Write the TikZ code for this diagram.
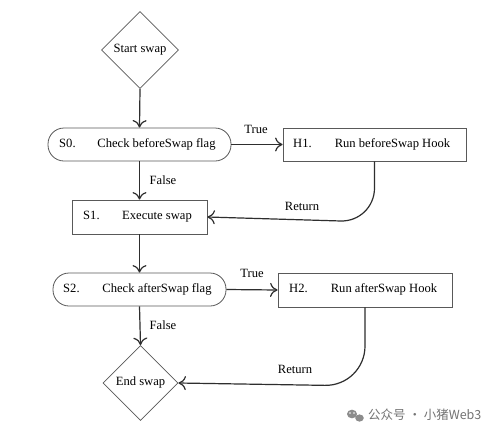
\documentclass[tikz,border=0pt]{standalone}
\usepackage{fontspec}
\setmainfont{Liberation Serif}
\newfontfamily\cjk{Noto Sans CJK SC}
\usetikzlibrary{arrows.meta,shapes.geometric}
\begin{document}
\begin{tikzpicture}[x=1pt,y=-1pt,
  font=\fontsize{12.6}{14}\selectfont,
  line/.style={draw=black!82, line width=1.2pt},
  arr/.style={line, -{Computer Modern Rightarrow[length=7.5pt,width=14pt]}},
  boxshape/.style={draw=black!65, line width=0.8pt, fill=white, inner sep=0pt},
  rbox/.style={boxshape, rounded corners=16pt},
  sbox/.style={boxshape},
  dia/.style={boxshape, diamond, aspect=1},
  txt/.style={inner sep=0pt, text height=1.6ex, text depth=0.45ex},
  lbl/.style={txt}
]
\fill[white] (0,0) rectangle (503,434);
\useasboundingbox (0,0) rectangle (503,434);

% shapes
\node[dia, minimum width=77, minimum height=77] (start) at (140,50) {};
\node[txt] (starttxt) at (start.center) {Start swap};

\node[rbox, minimum width=183, minimum height=33] (s0) at (139.5,144.5) {};
\node[txt, anchor=west] (s0id) at (59,144.5) {S0.};
\node[txt] (s0txt) at (156.5,144.5) {Check beforeSwap flag};

\node[sbox, minimum width=183, minimum height=33] (h1) at (374.5,144.5) {};
\node[txt, anchor=west] (h1id) at (293,144.5) {H1.};
\node[txt] (h1txt) at (392.5,144.5) {Run beforeSwap Hook};

\node[sbox, minimum width=135, minimum height=34] (s1) at (139.5,217) {};
\node[txt, anchor=west] (s1id) at (83,217) {S1.};
\node[txt] (s1txt) at (157,217) {Execute swap};

\node[rbox, minimum width=173, minimum height=33] (s2) at (139.5,289.5) {};
\node[txt, anchor=west] (s2id) at (63,289.5) {S2.};
\node[txt] (s2txt) at (157,289.5) {Check afterSwap flag};

\node[sbox, minimum width=174, minimum height=34] (h2) at (365,290) {};
\node[txt, anchor=west] (h2id) at (289,290) {H2.};
\node[txt] (h2txt) at (384,290) {Run afterSwap Hook};

\node[dia, minimum width=75, minimum height=75] (end) at (140.5,383) {};
\node[txt] (endtxt) at (end.center) {End swap};

% connectors
\draw[arr] (start.south) -- (s0.north);
\draw[arr] (s0.east) -- (h1.west);
\draw[arr] (s0.south) -- (s1.north);
\draw[arr, rounded corners=34pt] (h1.south) -- (374.5,222) -- (s1.east);
\draw[arr] (s1.south) -- (s2.north);
\draw[arr] (s2.east) -- (h2.west);
\draw[arr] (s2.south) -- (end.north);
\draw[arr, rounded corners=40pt] (h2.south) -- (365,386) -- (end.east);

% labels
\node[lbl] (t1) at (256,131) {True};
\node[lbl] (f1) at (163,182) {False};
\node[lbl] (r1) at (302,208) {Return};
\node[lbl] (t2) at (252,275) {True};
\node[lbl] (f2) at (163,327) {False};
\node[lbl] (r2) at (295,371) {Return};

% watermark
\fill[black!45] (352,414) ellipse (5pt and 4.3pt);
\fill[black!45] (359.5,418) ellipse (4.3pt and 3.6pt);
\fill[white] (350,413) circle (0.8pt) (354,413) circle (0.8pt);
\node[anchor=west, inner sep=0pt, text=black!55, font=\cjk\fontsize{12.5}{14}\selectfont] (wm) at (368,415) {公众号 · 小猪Web3};
\end{tikzpicture}
\end{document}
